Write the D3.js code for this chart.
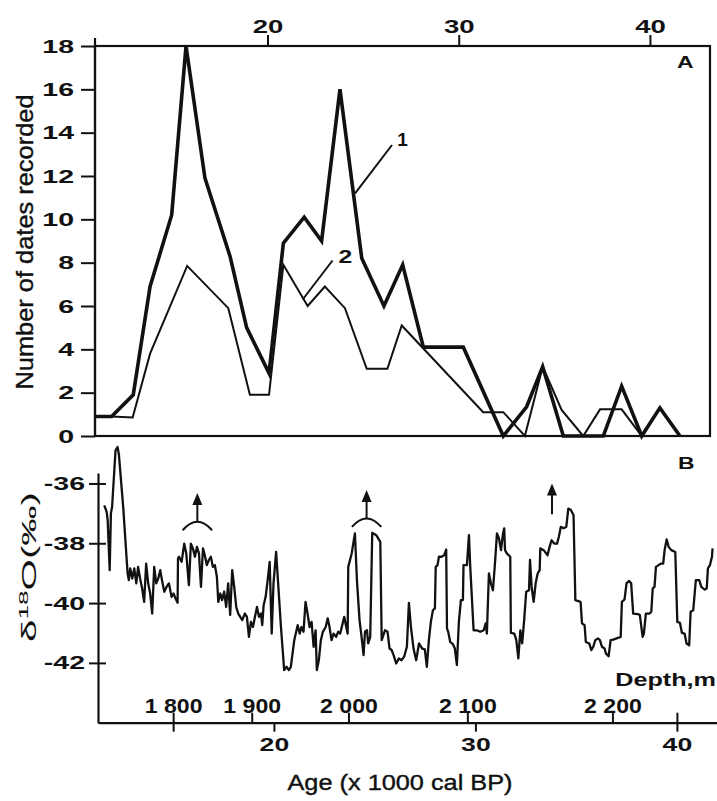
<!DOCTYPE html>
<html>
<head>
<meta charset="utf-8">
<script src="https://d3js.org/d3.v7.min.js"></script>
<style>
  body { margin: 0; background: #fff; }
  svg { display: block; }
  text { font-family: "Liberation Sans", Arial, sans-serif; fill: #111; }
</style>
</head>
<body>
<script>
// panel A: number of dates recorded (two curves)
const ageA1 = [11.0, 11.85, 12.98, 13.86, 14.99, 15.74, 16.73, 18.04, 18.91, 20.08, 20.83, 21.92, 22.83, 23.79,
  24.93, 26.09, 27.07, 28.15, 30.24, 32.33, 33.55, 34.39, 35.47, 37.56, 38.52, 39.57, 40.52, 41.57];
const datesA1 = [0.9, 0.9, 1.9, 6.9, 10.2, 18, 11.9, 8.3, 5.0, 2.9, 8.9, 10.1, 9.0, 16.0,
  8.2, 6.0, 7.9, 4.1, 4.1, 0, 1.35, 3.2, 0, 0, 2.3, 0, 1.3, 0];
const ageA2 = [11.0, 11.85, 12.95, 13.86, 15.8, 17.95, 19.08, 20.08, 20.83, 22.1, 23.0, 24.05, 25.19, 26.27,
  27.02, 31.28, 32.33, 33.46, 34.39, 35.38, 36.51, 37.39, 38.52, 39.57, 41.57];
const datesA2 = [0.9, 0.9, 0.85, 3.8, 7.85, 5.9, 1.9, 1.9, 7.9, 6.0, 6.9, 5.9, 3.1, 3.1,
  5.1, 1.1, 1.1, 0, 3.2, 1.2, 0, 1.23, 1.23, 0, 0];

// panel B: delta 18O record
const ageB = [
  11.58,11.70,11.75,11.85,11.91,11.97,12.14,12.24,12.31,12.52,
  12.74,12.80,12.87,12.97,13.07,13.17,13.26,13.36,13.46,13.56,
  13.66,13.76,13.86,13.96,14.06,14.16,14.26,14.36,14.46,14.56,
  14.67,14.79,14.92,15.02,15.12,15.22,15.24,15.29,15.42,15.55,
  15.65,15.78,15.88,15.98,16.08,16.18,16.28,16.38,16.48,16.57,
  16.67,16.77,16.87,16.97,17.07,17.17,17.24,17.34,17.43,17.53,
  17.63,17.73,17.83,17.93,18.03,18.13,18.23,18.33,18.43,18.56,
  18.66,18.76,18.86,18.96,19.06,19.16,19.26,19.36,19.42,19.49,
  19.59,19.69,19.79,19.89,19.98,20.11,20.21,20.35,20.51,20.63,
  20.74,20.84,21.01,21.18,21.28,21.37,21.47,21.57,21.67,21.77,
  21.87,21.97,22.07,22.13,22.23,22.33,22.43,22.57,22.67,22.76,
  22.86,22.96,23.09,23.19,23.29,23.39,23.49,23.59,23.66,23.69,
  23.86,24.02,24.12,24.25,24.35,24.45,24.52,24.62,24.68,24.78,
  24.88,25.08,25.28,25.35,25.51,25.64,25.74,25.84,25.94,26.07,
  26.20,26.34,26.47,26.60,26.70,26.80,26.93,27.06,27.20,27.36,
  27.49,27.59,27.69,27.79,27.89,27.99,28.03,28.12,28.19,28.32,
  28.45,28.55,28.59,28.65,28.75,28.88,28.98,29.08,29.18,29.28,
  29.38,29.41,29.58,29.68,29.74,29.91,30.07,30.24,30.41,30.51,
  30.57,30.67,30.77,30.87,30.97,31.07,31.17,31.27,31.37,31.43,
  31.47,31.56,31.73,31.76,31.93,32.03,32.13,32.23,32.32,32.42,
  32.52,32.66,32.71,32.79,32.89,32.99,33.09,33.19,33.22,33.39,
  33.58,33.68,33.78,33.91,34.05,34.14,34.24,34.38,34.51,34.61,
  34.74,34.87,34.96,35.22,35.29,35.42,35.48,35.65,35.75,35.85,
  35.95,36.08,36.18,36.28,36.41,36.48,36.61,36.71,36.84,37.04,
  37.21,37.27,37.40,37.50,37.63,37.73,37.83,38.07,38.16,38.30,
  38.36,38.46,38.63,38.73,38.80,38.89,38.96,39.09,39.22,39.32,
  39.39,39.49,39.59,39.72,39.92,40.02,40.15,40.25,40.38,40.48,
  40.61,40.68,40.81,40.94,41.11,41.21,41.38,41.48,41.54,41.64,
  41.74,41.77];
const d18O = [
  -36.73,-36.95,-37.23,-38.90,-37.00,-36.78,-34.89,-34.78,-35.05,-36.78,
  -39.01,-39.23,-38.84,-39.18,-38.84,-39.34,-38.79,-39.18,-39.51,-39.96,
  -38.68,-39.34,-39.68,-40.35,-38.79,-39.34,-39.18,-38.90,-39.29,-39.62,
  -39.46,-39.34,-39.79,-39.68,-39.85,-39.99,-38.51,-38.45,-38.62,-38.01,
  -38.34,-39.40,-38.01,-38.17,-38.45,-38.12,-38.34,-39.46,-38.17,-38.40,
  -38.73,-38.56,-38.45,-38.79,-38.73,-39.12,-39.96,-39.68,-39.90,-39.62,
  -40.13,-39.34,-40.40,-38.90,-39.46,-40.13,-40.35,-40.46,-40.57,-40.35,
  -40.46,-41.13,-40.63,-40.80,-40.46,-40.13,-40.46,-40.35,-40.74,-40.07,
  -39.79,-39.23,-38.62,-41.02,-39.34,-38.29,-39.34,-40.80,-42.24,-42.13,
  -42.24,-42.13,-41.24,-40.74,-41.02,-40.80,-40.96,-39.96,-40.35,-40.80,
  -40.63,-41.46,-40.91,-42.24,-41.91,-41.24,-40.96,-40.80,-40.51,-40.80,
  -41.24,-41.02,-41.13,-40.96,-41.02,-40.74,-40.46,-40.80,-41.02,-38.79,
  -38.34,-37.67,-39.23,-40.57,-41.13,-41.74,-40.96,-40.91,-41.35,-41.13,
  -37.65,-37.73,-37.95,-41.24,-40.91,-40.96,-41.52,-41.57,-41.74,-42.02,
  -41.85,-41.91,-41.78,-41.46,-39.99,-40.80,-41.52,-41.91,-41.35,-41.52,
  -41.55,-42.13,-41.24,-40.63,-40.24,-40.18,-38.79,-38.73,-38.45,-38.45,
  -38.40,-38.21,-40.85,-40.96,-41.30,-41.37,-41.52,-42.07,-40.63,-39.90,
  -39.90,-38.73,-38.73,-37.73,-38.73,-40.91,-40.91,-40.96,-40.91,-40.68,
  -41.02,-39.01,-39.34,-39.57,-38.68,-37.67,-37.84,-38.23,-37.67,-37.50,
  -38.23,-38.34,-38.45,-41.00,-41.02,-41.24,-41.85,-40.91,-41.35,-40.57,
  -39.62,-39.57,-38.56,-39.46,-39.96,-39.34,-39.01,-38.90,-38.17,-38.23,
  -38.40,-38.12,-37.90,-38.01,-38.01,-37.79,-37.45,-37.50,-37.45,-36.84,
  -36.89,-37.06,-39.90,-39.96,-40.68,-40.74,-41.30,-41.35,-41.57,-41.46,
  -41.24,-41.18,-41.24,-41.46,-41.52,-41.69,-41.78,-41.24,-41.22,-41.17,
  -41.13,-39.96,-39.88,-39.34,-39.26,-39.34,-40.35,-40.37,-40.40,-41.13,
  -41.02,-40.35,-40.35,-40.29,-39.51,-39.46,-38.79,-38.73,-38.68,-38.68,
  -38.23,-37.87,-38.12,-38.23,-38.29,-40.63,-40.66,-41.00,-41.02,-41.35,
  -41.41,-40.29,-40.24,-39.23,-39.23,-39.46,-39.55,-39.51,-38.84,-38.73,
  -38.45,-38.17];

// ticks
const topTicks = [20, 30, 40];
const yTicksA = [0, 2, 4, 6, 8, 10, 12, 14, 16, 18];
const yTicksB = [-36, -38, -40, -42];
const ageTicks = [15, 20, 30, 40];
const depthAges = [15.0, 18.9, 23.7, 29.6, 36.8, 40];
const depthLabels = ["1 800", "1 900", "2 000", "2 100", "2 200", ""];

// arrows in panel B (age, tip, base, arc)
const arrowAges = [16.2, 24.6, 33.8];
const arrowTips = [-36.32, -36.22, -36.0];
const arrowBases = [-37.28, -37.17, -37.03];
const arrowArcs = [true, true, false];

const W = 717, H = 801;
const svg = d3.select("body").append("svg")
  .attr("width", W)
  .attr("height", H);

// scales
const xTop = d3.scaleLinear().domain([10.98, 43.14]).range([95, 710]);
const yA = d3.scaleLinear().domain([0, 18]).range([436, 46]);
const xBot = d3.scaleLinear().domain([11.27, 41.99]).range([98, 717]);
const yB = d3.scaleLinear().domain([-44, -35.65]).range([722.7, 473]);

// stretch text horizontally like the scanned lettering
function stretch(sel, k) {
  sel.each(function () {
    const w = this.getComputedTextLength();
    if (w > 0) d3.select(this).attr("textLength", w * k).attr("lengthAdjust", "spacingAndGlyphs");
  });
}

function styleTicks(g, size) {
  g.select(".domain").remove();
  g.selectAll(".tick line").attr("stroke", "#111").attr("stroke-width", 2);
  g.selectAll(".tick text")
    .style("font-size", size + "px")
    .style("font-weight", "bold")
    .attr("fill", "#111");
}

// ---- panel A ----
svg.append("rect")
  .attr("x", xTop.range()[0]).attr("y", yA(18))
  .attr("width", xTop.range()[1] - xTop.range()[0])
  .attr("height", yA(0) - yA(18))
  .attr("fill", "none").attr("stroke", "#111").attr("stroke-width", 2.2);

svg.append("line")
  .attr("x1", xTop.range()[0]).attr("x2", xTop.range()[0])
  .attr("y1", yA(18) - 8).attr("y2", yA(0))
  .attr("stroke", "#111").attr("stroke-width", 2.2);

const gTop = svg.append("g")
  .attr("transform", `translate(0,${yA(18)})`)
  .call(d3.axisTop(xTop).tickValues(topTicks).tickSize(11).tickPadding(2));
styleTicks(gTop, 19);
stretch(gTop.selectAll(".tick text"), 1.45);

const gLeftA = svg.append("g")
  .attr("transform", `translate(${xTop.range()[0]},0)`)
  .call(d3.axisLeft(yA).tickValues(yTicksA).tickSize(14).tickPadding(7));
styleTicks(gLeftA, 19);
stretch(gLeftA.selectAll(".tick text"), 1.5);

const lineA = (xs, ys) => d3.line()
  .x((d, i) => xTop(xs[i]))
  .y(d => yA(d))(ys);

svg.append("path")
  .attr("d", lineA(ageA2, datesA2))
  .attr("fill", "none").attr("stroke", "#111").attr("stroke-width", 2)
  .attr("stroke-linejoin", "miter");

svg.append("path")
  .attr("d", lineA(ageA1, datesA1))
  .attr("fill", "none").attr("stroke", "#111").attr("stroke-width", 3.6)
  .attr("stroke-linejoin", "miter");

// series labels with leaders
svg.append("line")
  .attr("x1", xTop(24.58)).attr("y1", yA(11.2))
  .attr("x2", xTop(26.51)).attr("y2", yA(13.43))
  .attr("stroke", "#111").attr("stroke-width", 2);
svg.append("text")
  .attr("x", xTop(26.78)).attr("y", yA(13.4))
  .style("font-size", "19px").style("font-weight", "bold")
  .text("1");

svg.append("line")
  .attr("x1", xTop(21.84)).attr("y1", yA(6.3))
  .attr("x2", xTop(23.4)).attr("y2", yA(8.1))
  .attr("stroke", "#111").attr("stroke-width", 2);
svg.append("text")
  .attr("x", xTop(23.72)).attr("y", yA(8.0))
  .style("font-size", "19px").style("font-weight", "bold")
  .text("2")
  .call(stretch, 1.3);

svg.append("text")
  .attr("x", 677).attr("y", 68)
  .style("font-size", "17px").style("font-weight", "bold")
  .text("A")
  .call(stretch, 1.35);

svg.append("text")
  .attr("transform", `translate(33,242) rotate(-90)`)
  .attr("text-anchor", "middle")
  .style("font-size", "24px")
  .style("stroke", "#111").style("stroke-width", 0.4)
  .text("Number of dates recorded")
  .call(t => t.attr("textLength", 295).attr("lengthAdjust", "spacingAndGlyphs"));

// ---- panel B ----
const gLeftB = svg.append("g")
  .attr("transform", `translate(${xBot.range()[0]},0)`)
  .call(d3.axisLeft(yB).tickValues(yTicksB).tickSize(9).tickSizeOuter(0).tickPadding(4)
    .tickFormat(d => String(d)));
gLeftB.select(".domain").attr("stroke", "#111").attr("stroke-width", 2.2);
gLeftB.selectAll(".tick line").attr("stroke", "#111").attr("stroke-width", 2).attr("x1", 8);
gLeftB.selectAll(".tick text").style("font-size", "19px").style("font-weight", "bold").attr("fill", "#111");
stretch(gLeftB.selectAll(".tick text"), 1.5);

const gBot = svg.append("g")
  .attr("transform", `translate(0,${yB(-44)})`)
  .call(d3.axisBottom(xBot).tickValues(ageTicks).tickSize(9).tickSizeOuter(0).tickPadding(6)
    .tickFormat(d => d === 15 ? "" : d));
gBot.select(".domain").attr("stroke", "#111").attr("stroke-width", 2.2);
gBot.selectAll(".tick line").attr("stroke", "#111").attr("stroke-width", 2);
gBot.selectAll(".tick text").style("font-size", "19px").style("font-weight", "bold").attr("fill", "#111");
stretch(gBot.selectAll(".tick text"), 1.4);

const gDepth = svg.append("g")
  .attr("transform", `translate(0,${yB(-44)})`)
  .call(d3.axisTop(xBot).tickValues(depthAges).tickSize(10).tickPadding(0)
    .tickFormat((d, i) => depthLabels[i]));
gDepth.select(".domain").remove();
gDepth.selectAll(".tick line").attr("stroke", "#111").attr("stroke-width", 2);
gDepth.selectAll(".tick text").style("font-size", "21px").style("font-weight", "bold").attr("fill", "#111");
stretch(gDepth.selectAll(".tick text"), 1.1);

svg.append("text")
  .attr("x", 716).attr("y", 686)
  .attr("text-anchor", "end")
  .style("font-size", "18px").style("font-weight", "bold")
  .text("Depth,m")
  .call(stretch, 1.4);

svg.append("text")
  .attr("x", 400).attr("y", 790)
  .attr("text-anchor", "middle")
  .style("font-size", "22px")
  .style("stroke", "#111").style("stroke-width", 0.4)
  .text("Age (x 1000 cal BP)")
  .call(t => t.attr("textLength", 225).attr("lengthAdjust", "spacingAndGlyphs"));

svg.append("text")
  .attr("x", 678).attr("y", 469)
  .style("font-size", "17px").style("font-weight", "bold")
  .text("B")
  .call(stretch, 1.35);

const dLabel = svg.append("text")
  .attr("transform", `translate(36,567) rotate(-90)`)
  .attr("text-anchor", "middle")
  .style("font-size", "20px");
dLabel.append("tspan").text("δ");
dLabel.append("tspan").attr("dy", -8).style("font-size", "13px").text("18");
dLabel.append("tspan").attr("dy", 8).text("O(‰)");
dLabel.attr("textLength", 150).attr("lengthAdjust", "spacingAndGlyphs");

// the d18O curve
const lineB = d3.line()
  .x((d, i) => xBot(ageB[i]))
  .y(d => yB(d));

svg.append("path")
  .attr("d", lineB(d18O))
  .attr("fill", "none").attr("stroke", "#111").attr("stroke-width", 2.3)
  .attr("stroke-linejoin", "round");

// arrows
arrowAges.forEach((a, i) => {
  const x = xBot(a), yt = yB(arrowTips[i]), yb = yB(arrowBases[i]);
  svg.append("line")
    .attr("x1", x).attr("x2", x).attr("y1", yt + 8).attr("y2", yb)
    .attr("stroke", "#111").attr("stroke-width", 2);
  svg.append("path")
    .attr("d", `M${x},${yt} L${x - 5},${yt + 12} L${x + 5},${yt + 12} Z`)
    .attr("fill", "#111");
  if (arrowArcs[i]) {
    const hw = xBot(a + 0.73) - x;
    const ye = yb + 8.5;
    svg.append("path")
      .attr("d", `M${x - hw},${ye} Q${x},${2 * yb - ye} ${x + hw},${ye}`)
      .attr("fill", "none").attr("stroke", "#111").attr("stroke-width", 2);
  }
});
</script>
</body>
</html>
